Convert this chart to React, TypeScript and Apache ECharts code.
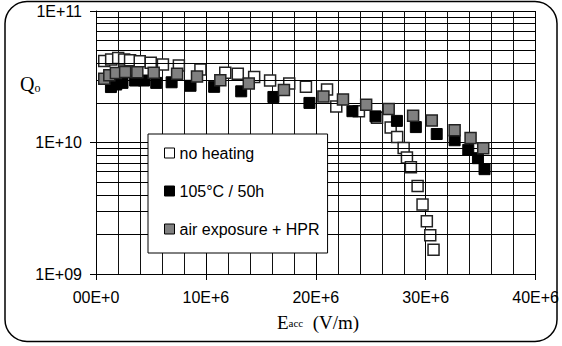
import React, { useEffect, useRef } from "react";
import * as echarts from "echarts";

// E in MV/m, Q0 values
const noHeatingE = [0.75, 1.38, 2.02, 2.56, 3.1, 3.98, 4.98, 6.09, 7.54, 9.5, 11.76, 12.9, 14.39, 15.84, 17.58, 19.1, 21.02, 21.86, 23.92, 25.57, 26.81, 27.4, 27.99, 28.29, 28.65, 29.26, 29.71, 30.1, 30.41, 30.71];
const noHeatingQ = [4.17e10, 4.28e10, 4.39e10, 4.28e10, 4.23e10, 4.15e10, 4.04e10, 3.92e10, 3.85e10, 3.59e10, 3.39e10, 3.33e10, 3.15e10, 2.96e10, 2.81e10, 2.65e10, 2.53e10, 1.88e10, 1.73e10, 1.54e10, 1.3e10, 1.1e10, 9.1e9, 7.7e9, 6.47e9, 4.67e9, 3.37e9, 2.52e9, 1.97e9, 1.53e9];

const bakedE = [1.36, 1.84, 2.41, 3.56, 4.37, 5.48, 6.88, 8.6, 10.75, 13.21, 16.14, 19.42, 23.33, 25.43, 27.38, 29.1, 31.0, 32.63, 33.87, 34.75, 35.35];
const bakedQ = [2.64e10, 2.76e10, 2.84e10, 2.96e10, 2.96e10, 2.84e10, 2.87e10, 2.7e10, 2.65e10, 2.45e10, 2.22e10, 2.0e10, 1.73e10, 1.58e10, 1.46e10, 1.31e10, 1.16e10, 1.04e10, 8.8e9, 7.6e9, 6.27e9];

const hprE = [0.75, 1.21, 1.81, 2.65, 3.76, 5.25, 7.38, 9.19, 11.31, 13.9, 17.1, 20.69, 22.47, 24.58, 26.63, 28.85, 30.55, 32.63, 34.08, 35.23];
const hprQ = [3.05e10, 3.25e10, 3.38e10, 3.43e10, 3.42e10, 3.39e10, 3.33e10, 3.17e10, 2.97e10, 2.81e10, 2.51e10, 2.24e10, 2.12e10, 1.94e10, 1.8e10, 1.6e10, 1.47e10, 1.24e10, 1.08e10, 9.06e9];

const seriesNames = ["no heating", "105°C / 50h", "air exposure + HPR"];
const qMinorLines = [2e9, 3e9, 4e9, 5e9, 6e9, 7e9, 8e9, 9e9, 2e10, 3e10, 4e10, 5e10, 6e10, 7e10, 8e10, 9e10];
const xMin = 0;
const xMax = 40e6;
const xInterval = 10e6;
const yMin = 1e9;
const yMax = 1e11;

const SANS = "'Liberation Sans', Arial, sans-serif";
const SERIF = "'Liberation Serif', 'Times New Roman', serif";

const pairs = (e: number[], q: number[]) => e.map((v, i) => [v * 1e6, q[i]]);

export default function App() {
  const ref = useRef<HTMLDivElement>(null);
  useEffect(() => {
    if (!ref.current) return;
    const chart = echarts.init(ref.current, null, { renderer: "svg" });
    const markerBase = { type: "scatter", symbol: "rect", symbolSize: 11 };
    chart.setOption({
      animation: false,
      backgroundColor: "#fff",
      grid: { left: 96, top: 11, right: 23, bottom: 72 },
      xAxis: {
        type: "value",
        min: xMin,
        max: xMax,
        interval: xInterval,
        axisLine: { show: true, onZero: false, lineStyle: { color: "#000", width: 1 } },
        axisTick: { show: true, length: 6, lineStyle: { color: "#000" } },
        axisLabel: {
          color: "#000",
          fontSize: 16,
          fontFamily: SANS,
          margin: 15,
          formatter: (v: number) => (v === 0 ? "00E+0" : `${Math.round(v / 1e6)}E+6`),
        },
        splitLine: { show: true, lineStyle: { color: "#000", width: 1 } },
        minorTick: { show: false, splitNumber: 5 },
        minorSplitLine: { show: true, lineStyle: { color: "#111", width: 1 } },
      },
      yAxis: {
        type: "log",
        logBase: 10,
        min: yMin,
        max: yMax,
        axisLine: { show: true, lineStyle: { color: "#000", width: 1 } },
        axisTick: { show: true, length: 6, lineStyle: { color: "#000" } },
        axisLabel: {
          color: "#000",
          fontSize: 16,
          fontFamily: SANS,
          margin: 14,
          formatter: (v: number) => `1E+${String(Math.round(Math.log10(v))).padStart(2, "0")}`,
        },
        splitLine: { show: true, lineStyle: { color: "#000", width: 1 } },
      },
      legend: {
        data: seriesNames,
        orient: "vertical",
        left: 148,
        top: 134,
        padding: [11, 8, 16, 16],
        itemGap: 22,
        itemWidth: 10,
        itemHeight: 10,
        backgroundColor: "#fff",
        borderColor: "#000",
        borderWidth: 1,
        borderRadius: 0,
        textStyle: { color: "#000", fontSize: 16, fontFamily: SANS },
        itemStyle: { borderColor: "#000", borderWidth: 1 },
        z: 10,
      },
      graphic: [
        {
          type: "rect",
          shape: { x: 5, y: 1.5, width: 552, height: 340, r: 22 },
          style: { fill: "none", stroke: "#000", lineWidth: 1.5 },
          silent: true,
          z: 20,
        },
        {
          type: "text",
          x: 20,
          y: 84,
          style: {
            text: "{q|Q}{s|o}",
            verticalAlign: "middle",
            rich: {
              q: { fontFamily: SERIF, fontSize: 20, fill: "#000" },
              s: { fontFamily: SERIF, fontSize: 12, fill: "#000", padding: [7, 0, 0, 0] },
            },
          },
        },
        {
          type: "text",
          x: 318,
          y: 322,
          style: {
            text: "{e|E}{s|acc}{e|  (V/m)}",
            align: "center",
            verticalAlign: "middle",
            rich: {
              e: { fontFamily: SERIF, fontSize: 19, fill: "#000" },
              s: { fontFamily: SERIF, fontSize: 11, fill: "#000", padding: [1, 0, 0, 0] },
            },
          },
        },
      ],
      series: [
        {
          type: "line",
          data: [],
          z: 1,
          silent: true,
          markLine: {
            silent: true,
            symbol: ["none", "none"],
            label: { show: false },
            lineStyle: { color: "#000", width: 1, type: "solid" },
            emphasis: { disabled: true },
            data: qMinorLines.map((v) => ({ yAxis: v })),
          },
        },
        {
          ...markerBase,
          name: seriesNames[0],
          z: 3,
          data: pairs(noHeatingE, noHeatingQ),
          itemStyle: { color: "#fff", borderColor: "#222", borderWidth: 1.5, opacity: 1 },
        },
        {
          ...markerBase,
          name: seriesNames[1],
          z: 4,
          data: pairs(bakedE, bakedQ),
          itemStyle: { color: "#000", borderColor: "#000", borderWidth: 1, opacity: 1 },
        },
        {
          ...markerBase,
          name: seriesNames[2],
          z: 5,
          data: pairs(hprE, hprQ),
          itemStyle: { color: "#808080", borderColor: "#222", borderWidth: 1.5, opacity: 1 },
        },
      ],
    });
    return () => chart.dispose();
  }, []);
  return <div ref={ref} style={{ position: "fixed", left: 0, top: 0, width: 562, height: 346 }} />;
}
